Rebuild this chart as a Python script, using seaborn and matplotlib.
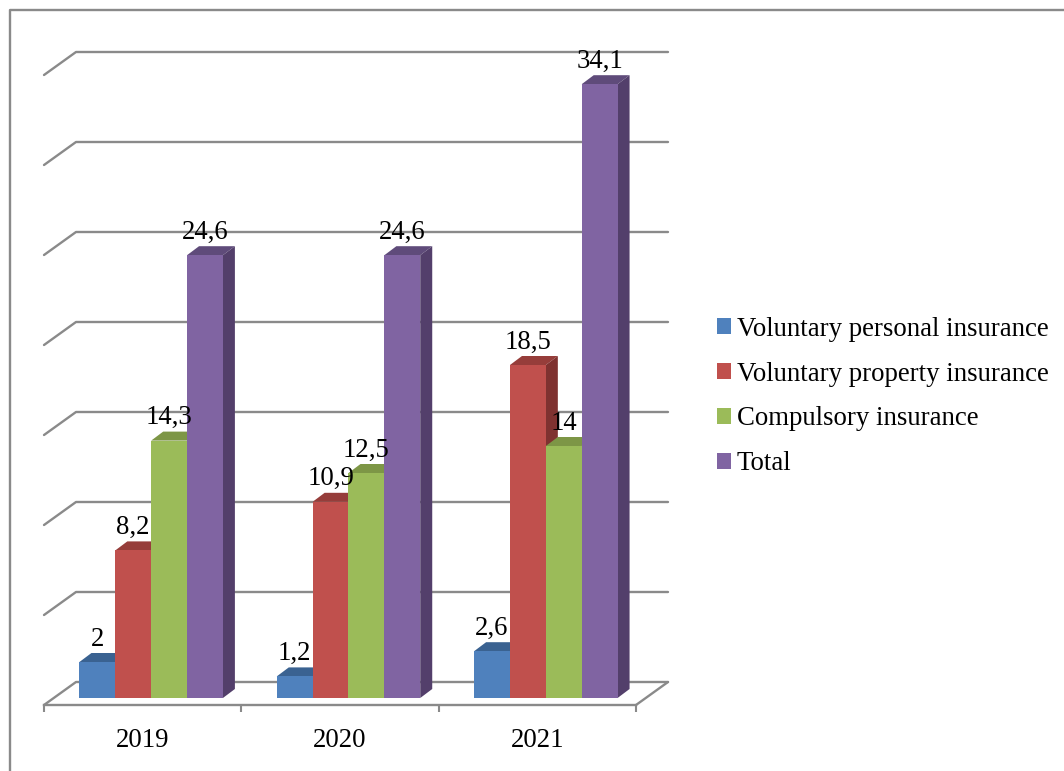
import pandas as pd
import seaborn as sns
import matplotlib.pyplot as plt
from matplotlib.lines import Line2D
from matplotlib.patches import Polygon

years = ['2019', '2020', '2021']
series_names = ['Voluntary personal insurance', 'Voluntary property insurance',
                'Compulsory insurance', 'Total']
personal = [2, 1.2, 2.6]
property_ins = [8.2, 10.9, 18.5]
compulsory = [14.3, 12.5, 14]
total = [24.6, 24.6, 34.1]
grid_values = [0, 5, 10, 15, 20, 25, 30, 35]

colors = ['#4f81bd', '#c0504d', '#9bbb59', '#8064a2']
top_colors = ['#3a6291', '#963d3a', '#7d9646', '#5f4b7a']
side_colors = ['#34557f', '#7f3230', '#6a803a', '#533f6b']
line_color = '#8a8a8a'

df = pd.DataFrame({'year': years * 4,
                   'series': [s for s in series_names for _ in years],
                   'value': personal + property_ins + compulsory + total})

W, H = 1064, 771
sns.set_theme(style='white')
plt.rcParams['font.family'] = ['Liberation Serif', 'DejaVu Serif']

fig = plt.figure(figsize=(W / 100, H / 100), dpi=100)
# axes box: floor of the bars at y=698px, 18px per unit
ax = fig.add_axes([44 / W, 1 - 698 / H, 592 / W, 648 / H])

sns.barplot(data=df, x='year', y='value', hue='series', palette=colors,
            width=0.727, gap=0, linewidth=0, saturation=1, ax=ax)
ax.set_xlim(-0.5, 2.5)
ax.set_ylim(0, 36)
ax.set_xlabel('')
ax.set_ylabel('')

px_x = 3 / 592   # one pixel in data units
px_y = 36 / 648

# back wall and its diagonals
for v in grid_values:
    y_back = v + 16 * px_y
    y_front = v - 7 * px_y
    x_left = -0.5
    ax.plot([x_left, x_left + 32 * px_x, 2.5 + 32 * px_x],
            [y_front, y_back, y_back], color=line_color, lw=1.7, zorder=1, clip_on=False)
ax.plot([2.5, 2.5 + 32 * px_x], [-7 * px_y, 16 * px_y], color=line_color, lw=1.7,
        zorder=1, clip_on=False)

# shift the bars back a bit and draw the fake 3D faces
shift = 8.5 * px_x
depth_x = 12 * px_x
depth_y = 9 * px_y
for i, cont in enumerate(ax.containers):
    for bar in cont:
        bar.set_x(bar.get_x() + shift)
        bar.set_zorder(3 + i + 0.5)
        x0 = bar.get_x()
        x1 = x0 + bar.get_width()
        h = bar.get_height()
        ax.add_patch(Polygon([(x0, h), (x1, h), (x1 + depth_x, h + depth_y), (x0 + depth_x, h + depth_y)],
                             facecolor=top_colors[i], lw=0, zorder=3 + i, clip_on=False))
        ax.add_patch(Polygon([(x1, 0), (x1 + depth_x, depth_y), (x1 + depth_x, h + depth_y), (x1, h)],
                             facecolor=side_colors[i], lw=0, zorder=3 + i, clip_on=False))
        label = f'{h:g}'.replace('.', ',')
        ax.annotate(label, (x0 + bar.get_width() / 2, h), xytext=(0, 16.5), textcoords='offset points',
                    ha='center', va='center', fontsize=19.3, color='black', zorder=20)

sns.despine(ax=ax, left=True, top=True, right=True)
ax.spines['bottom'].set_position(('outward', 5))
ax.spines['bottom'].set_color(line_color)
ax.spines['bottom'].set_linewidth(1.7)
ax.set_yticks([])
ax.set_xticks([-0.5, 0.5, 1.5, 2.5], minor=True)
ax.tick_params(axis='x', which='minor', bottom=True, length=5, width=1.5, color=line_color)
ax.tick_params(axis='x', which='major', bottom=False, length=0, pad=16.5, labelsize=19.3, labelcolor='black')

sns.move_legend(ax, 'center left', bbox_to_anchor=(717 / W, 1 - 396.5 / H),
                bbox_transform=fig.transFigure, frameon=False, title=None,
                fontsize=19.3, labelcolor='black', borderpad=0, borderaxespad=0,
                handlelength=0.52, handleheight=0.52, handletextpad=0.22, labelspacing=0.74)

# outer chart border runs off the picture on the right and bottom
fig.add_artist(Line2D([9.5 / W, 9.5 / W, 1], [0, 1 - 10 / H, 1 - 10 / H], color=line_color, lw=1.7))

fig.savefig('out.png', dpi=100)
